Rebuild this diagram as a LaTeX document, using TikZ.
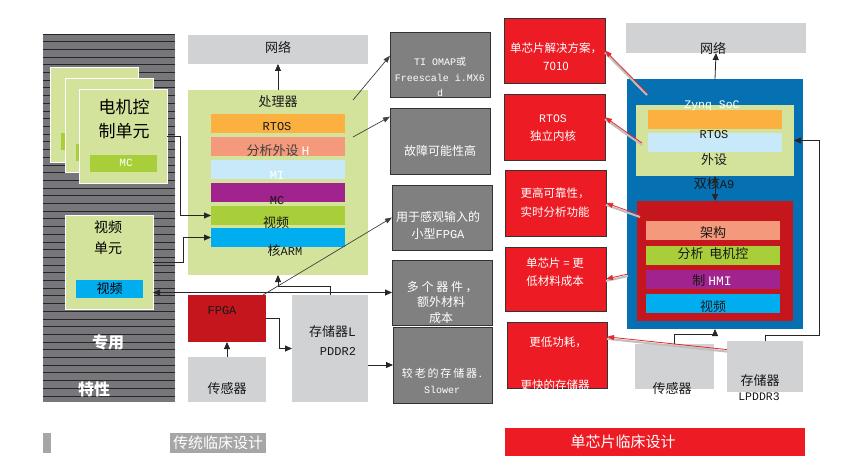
\documentclass[tikz,border=0pt]{standalone}
\usepackage{fontspec}
\setmainfont{Noto Sans CJK SC}
\setmonofont{Liberation Mono}
\usetikzlibrary{arrows.meta,calc}
\definecolor{cpanel}{HTML}{77777B}
\definecolor{clgreen}{HTML}{D3E39C}
\definecolor{cygreen}{HTML}{A8CF3A}
\definecolor{ccyan}{HTML}{00AEEF}
\definecolor{corange}{HTML}{FBB040}
\definecolor{csalmon}{HTML}{F4997B}
\definecolor{clblue}{HTML}{C8E9F9}
\definecolor{cpurple}{HTML}{A1238D}
\definecolor{cfpga}{HTML}{C4161C}
\definecolor{cbgray}{HTML}{D1D2D4}
\definecolor{cdgray}{HTML}{808080}
\definecolor{cred}{HTML}{ED1C24}
\definecolor{cblue}{HTML}{0570B2}
\definecolor{clab}{HTML}{A6A6A6}
\definecolor{credline}{HTML}{E8262C}
\newcommand\fsz[2]{\fontsize{#1}{#2}\selectfont}
\newcommand\mybox[7]{\node[#6,inner sep=0pt,outer sep=0pt,minimum width={(#4-#2)*1pt},minimum height={(#5-#3)*1pt}] (#1) at ({(#2+#4)/2},{(#3+#5)/2}) {#7};}
\tikzset{
  every node/.style={inner sep=0pt,outer sep=0pt},
  stripe/.style={draw=black!85,line width=0.8pt},
  card/.style={fill=clgreen,draw=white,line width=0.8pt},
  lgbox/.style={fill=cbgray},
  dgbox/.style={fill=cdgray,draw=black!80,line width=0.8pt},
  rbox/.style={fill=cred,draw=black!80,line width=0.8pt},
  lab/.style={font=\fsz{13}{15},text=black!90},
  mlab/.style={font=\fsz{12}{14}\ttfamily,text=black!90},
  wlab/.style={font=\fsz{12}{17},text=white,align=center},
  rlab/.style={font=\fsz{11.5}{18},text=white,align=center},
  arr/.style={draw=black!85,line width=0.8pt,-{Triangle[length=7pt,width=6pt]}},
  darr/.style={draw=black!85,line width=0.8pt,{Triangle[length=7pt,width=6pt]}-{Triangle[length=7pt,width=6pt]}},
  diag/.style={draw=black!75,line width=0.7pt,-{Triangle[length=7pt,width=5pt]}},
  redarr/.style={draw=credline,line width=0.8pt,-{Triangle[length=7pt,width=5pt]},
    preaction={draw=black!25,line width=2pt,-,transform canvas={yshift=-2pt}}},
}
\begin{document}
\begin{tikzpicture}[x=1pt,y=-1pt]
\useasboundingbox[fill=white] (0,0) rectangle (845,468);

% ---------- left panel ----------
\mybox{lp}{43}{34}{175}{402}{fill=cpanel}{}
\foreach \k in {0,...,47}{\draw[stripe] (43,{34+\k*7.7}) -- (175,{34+\k*7.7});}
\mybox{mc1}{50}{67}{138}{162}{card}{}
\mybox{mcb1}{61}{133}{120}{150}{fill=cygreen}{}
\mybox{mc2}{65}{78}{153}{172}{card}{}
\mybox{mcb2}{76}{144}{135}{161}{fill=cygreen}{}
\mybox{mc3}{79}{89}{167}{183}{card}{}
\mybox{mcb3}{90}{155}{157}{172}{fill=cygreen}{}
\node[font=\fsz{17}{24},align=center] (tmc) at (124,119) {电机控\\制单元};
\node[font=\fsz{11}{13}\ttfamily,text=white] (tmcb) at (126,163) {MC};
\mybox{vu}{65}{215}{153}{309}{card}{}
\node[font=\fsz{14}{21},align=center] (tvu) at (108,238) {视频\\单元};
\mybox{vub}{76}{280}{143}{298}{fill=ccyan}{\fsz{13}{15}视频}
\node[font=\fsz{16}{18}\bfseries,text=white] (tzy) at (108,342) {专用};
\node[font=\fsz{16}{18}\bfseries,text=white] (ttx) at (94,389) {特性};

% ---------- traditional middle ----------
\mybox{net1}{188}{35}{368}{64}{lgbox}{}
\node[lab] (tnet1) at (278,47) {网络};
\mybox{proc}{188}{90}{368}{275}{fill=clgreen}{}
\node[lab] (tproc) at (278,102) {处理器};
\mybox{prtos}{211}{114}{345}{133}{fill=corange}{}
\mybox{pana}{211}{137}{345}{156}{fill=csalmon}{}
\mybox{pmi}{211}{160}{345}{179}{fill=clblue}{}
\mybox{pmc}{211}{183}{345}{202}{fill=cpurple}{}
\mybox{pvid}{211}{206}{345}{225}{fill=cygreen}{}
\mybox{parm}{211}{228}{345}{247}{fill=ccyan}{}
\node[mlab] (trtos) at (277,127) {RTOS};
\node[lab,text=black!75] (tana) at (278,151) {分析外设 \textcolor{white}{\ttfamily H}};
\node[mlab,text=white] (tmi) at (277,176) {MI};
\node[mlab] (tpmc) at (277,201) {MC};
\node[lab] (tpvid) at (276,223) {视频};
\node[lab] (tarm) at (285,251) {核{\fsz{12}{14}\ttfamily ARM}};

\mybox{fpga}{188}{295}{266}{342}{fill=cfpga}{}
\node[mlab] (tfpga) at (222,311) {FPGA};
\mybox{sens1}{188}{357}{266}{402}{lgbox}{}
\node[lab] (tsens1) at (227,389) {传感器};
\mybox{mem1}{292}{295}{368}{402}{lgbox}{}
\node[lab,align=right,anchor=east,font=\fsz{13}{19}] (tmem1) at (356,341) {存储器{\ttfamily L}\\{\fsz{12}{14}\ttfamily PDDR2}};

% middle column (dark gray)
\mybox{omap}{390}{32}{490}{97}{dgbox}{}
\node[font=\fsz{10}{15.5}\ttfamily,text=white,align=center] (tomap) at (440,77) {TI OMAP{\rmfamily 或}\\Freescale i.MX6\\d};
\mybox{fault}{390}{108}{490}{174}{dgbox}{}
\node[wlab] (tfault) at (440,151) {故障可能性高};
\mybox{sensing}{392}{185}{492}{250}{dgbox}{}
\node[wlab] (tsensing) at (438,225.5) {用于感观输入的\\小型{\ttfamily FPGA}};
\mybox{multi}{392}{260}{492}{325}{dgbox}{}
\node[wlab,font=\fsz{12}{15.5}] (tmulti) at (441,302) {\ 多\ 个\ 器\ 件\ ，\\额外材料\\成本};
\mybox{older}{393}{327}{492}{403}{dgbox}{}
\node[wlab,font=\fsz{11}{16}] (tolder) at (442,381) {较\,老\,的\,存\,储\,器\,.\\{\fsz{10}{12}\ttfamily Slower}};

% connectors traditional
\draw[arr] (proc.north) -- (net1.south);
\draw[arr] (mc3.east) -- ++(13,0) |- (pvid.west);
\draw[arr] (vu.east) -- ++(30,0) |- (parm.west);
\draw[arr] (sens1.north) -- (fpga.south);
\draw[arr] (fpga.east) -- ++(13,0) |- (mem1.west);
\draw[arr] (mem1.north) -- ++(0,-9) -| (proc.south);
\draw[darr] (vu.east |- multi.west) -- (multi.west);
\draw[arr] (mem1.east |- older.west) -- (older.west);
\coordinate (pa) at (353,100);
\coordinate (pb) at (353,137);
\draw[diag] (pa) -- (omap.170);
\draw[diag] (pb) -- (fault.154);
\draw[diag] ($(fpga.north east)+(-3,0)$) -- (sensing.west);

% ---------- red benefit boxes ----------
\mybox{r1}{504}{18}{605}{83}{rbox}{}
\node[rlab] (tr1) at (556,56.5) {单芯片解决方案，\\7010};
\mybox{r2}{504}{94}{605}{160}{rbox}{}
\node[rlab] (tr2) at (553,128) {{\ttfamily RTOS}\\独立内核};
\mybox{r3}{505}{170}{606}{236}{rbox}{}
\node[rlab,font=\fsz{11.5}{19}] (tr3) at (555,202.5) {更高可靠性，\\实时分析功能};
\mybox{r4}{505}{247}{606}{311}{rbox}{}
\node[rlab] (tr4) at (555,272) {单芯片 = 更\\低材料成本};
\mybox{r5}{507}{322}{607}{388}{rbox}{}
\node[rlab] (tr5a) at (558,342) {更低功耗，};
\node[rlab] (tr5b) at (555,385) {更快的存储器};

% ---------- Zynq side ----------
\mybox{net2}{626}{23}{806}{53}{lgbox}{}
\node[lab] (tnet2) at (713,48) {网络};
\mybox{blue}{627}{79}{803}{329}{fill=cblue}{}
\mybox{green2}{636}{105}{794}{176}{fill=clgreen}{}
\mybox{or2}{648}{110}{782}{129}{fill=corange}{}
\mybox{lb2}{648}{133}{782}{152}{fill=clblue}{}
\node[mlab,font=\fsz{11.5}{14}\ttfamily,text=white] (tzynq) at (712,106) {Zynq SoC};
\node[mlab] (trtos2) at (714,135) {RTOS};
\node[lab] (tper2) at (714,160) {外设};
\node[lab] (ta9) at (714,184) {双核{\fsz{12}{14}\ttfamily A9}};
\mybox{red2}{637}{201}{793}{321}{fill=cfpga}{}
\mybox{b1}{646}{221}{780}{240}{fill=csalmon}{}
\mybox{b2}{646}{246}{780}{265}{fill=cygreen}{}
\mybox{b3}{646}{270}{780}{289}{fill=cpurple}{}
\mybox{b4}{646}{294}{780}{313}{fill=ccyan}{}
\node[lab] (tb1) at (713,233) {架构};
\node[lab] (tb2) at (713,254) {分析\ \ 电机控};
\node[lab] (tb3) at (712,281) {制 \textcolor{white}{\ttfamily HMI}};
\node[lab] (tb4) at (713,307) {视频};
\mybox{sens2}{635}{344}{714}{389}{lgbox}{}
\node[lab] (tsens2) at (672,389) {传感器};
\mybox{mem2}{727}{341}{803}{392}{lgbox}{}
\node[lab] (tmem2) at (760,381) {存储器};
\node[mlab,font=\fsz{11.5}{14}\ttfamily] (tlp3) at (759,397) {LPDDR3};

\draw[arr] (blue.north) -- (net2.south);
\draw[darr] (green2.south) -- (red2.north);
\draw[arr] (sens2.north) -- ++(0,-10) -| (blue.south);
\draw[arr] (mem2.north) -- ++(0,-6) -- ++(54,0) |- (green2.east);

% red arrows
\coordinate (s1) at (647,93);
\coordinate (s2) at (642,143);
\coordinate (s3) at (640,215);
\coordinate (s4) at (628,274);
\draw[redarr] (s1) -- (r1.east);
\draw[redarr] (s2) -- (r2.11);
\draw[redarr] (s3) -- (r3.east);
\draw[redarr] (s4) -- (r4.east);
\draw[redarr] (mem2.156) -- (r5.20);

% ---------- bottom labels ----------
\mybox{gbar}{43}{433}{51}{453}{fill=clab}{}
\mybox{ltrad}{170}{433}{266}{453}{fill=clab}{\fsz{15}{17}\color{white}传统临床设计}
\mybox{lsoc}{505}{428}{805}{456}{fill=cred}{}
\node[font=\fsz{15}{17},text=white] (tsoc) at (623,442) {单芯片临床设计};
\end{tikzpicture}
\end{document}
